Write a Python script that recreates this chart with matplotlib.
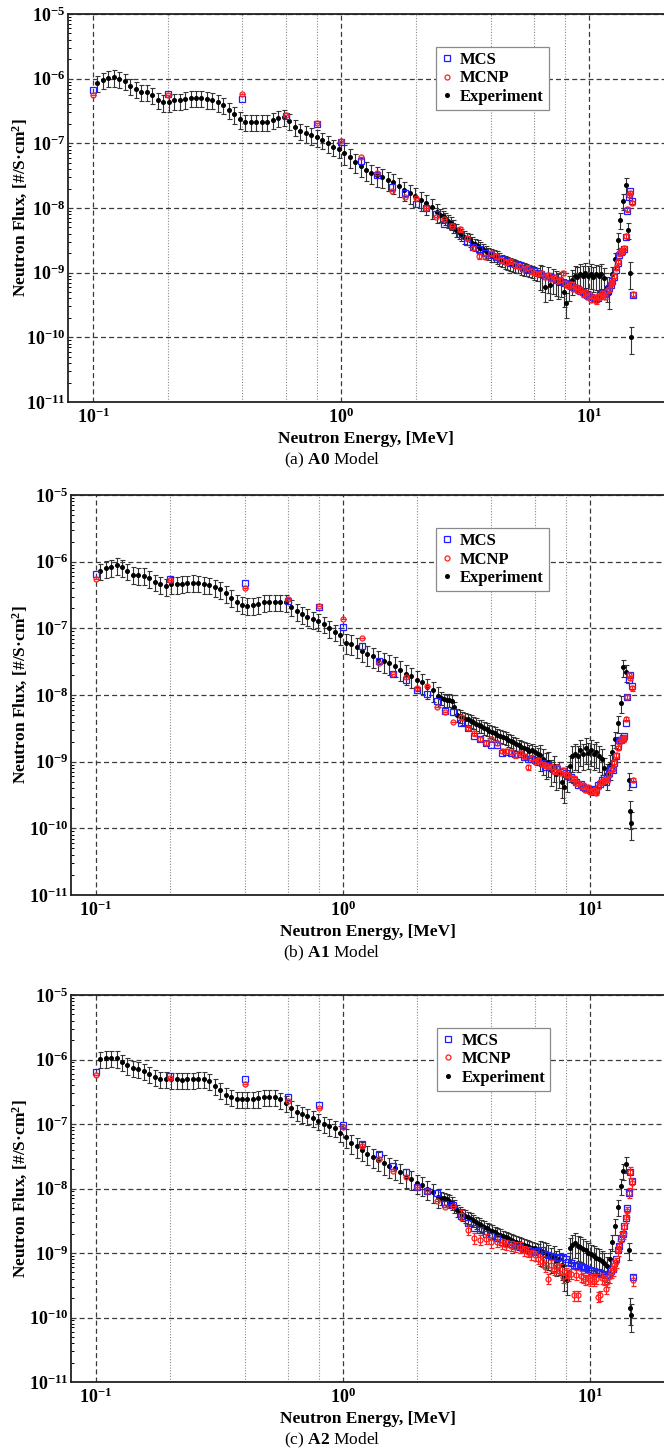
import numpy as np
import matplotlib.pyplot as plt
from matplotlib.lines import Line2D
from matplotlib.ticker import FixedLocator, FuncFormatter, NullFormatter

plt.rcParams['font.family'] = ['Liberation Serif', 'DejaVu Serif']
plt.rcParams['mathtext.fontset'] = 'custom'
plt.rcParams['mathtext.rm'] = 'Liberation Serif'
plt.rcParams['mathtext.bf'] = 'Liberation Serif:bold'
plt.rcParams['mathtext.it'] = 'Liberation Serif:italic'

# ---- simulation energy bins [MeV]
sim_energy = [
    0.1, 0.2, 0.4, 0.6, 0.8,
    1.0, 1.2, 1.4, 1.6, 1.8, 2.0, 2.2, 2.4, 2.6, 2.8,
    3.0, 3.2, 3.4, 3.6, 3.8, 4.0, 4.2, 4.4, 4.6, 4.8,
    5.0, 5.2, 5.4, 5.6, 5.8, 6.0, 6.2, 6.4, 6.6, 6.8,
    7.0, 7.2, 7.4, 7.6, 7.8, 8.0, 8.2, 8.4, 8.6, 8.8,
    9.0, 9.2, 9.4, 9.6, 9.8, 10.0, 10.2, 10.4, 10.6, 10.8,
    11.0, 11.2, 11.4, 11.6, 11.8, 12.0, 12.2, 12.4, 12.6, 12.8,
    13.0, 13.2, 13.4, 13.6, 13.8, 14.0, 14.2, 14.4, 14.6, 14.8,
    15.0,
]

# ---- measured spectrum energy bins [MeV]
exp_energy = [
    0.104, 0.1094, 0.1151, 0.1211, 0.1275, 0.1341, 0.1411, 0.1485, 0.1562, 0.1644,
    0.1730, 0.1820, 0.1915, 0.2015, 0.2120, 0.2231, 0.2347, 0.2470, 0.2599, 0.2734,
    0.2877, 0.3027, 0.3185, 0.3352, 0.3527, 0.3711, 0.3904, 0.4108, 0.4323, 0.4548,
    0.4786, 0.5036, 0.5298, 0.5575, 0.5866, 0.6172, 0.6494, 0.6833, 0.7190, 0.7565,
    0.7960, 0.8376, 0.8813, 0.9273, 0.9757, 1.027, 1.080, 1.137, 1.196, 1.258,
    1.324, 1.393, 1.466, 1.542, 1.623, 1.708, 1.797, 1.890, 1.989, 2.093,
    2.202, 2.317, 2.438,
    2.50, 2.56, 2.63, 2.70, 2.76, 2.83, 2.91, 2.98, 3.05, 3.13,
    3.21, 3.29, 3.38, 3.46, 3.55, 3.64, 3.73, 3.82, 3.92, 4.02,
    4.12, 4.23, 4.33, 4.44, 4.56, 4.67, 4.79, 4.91, 5.03, 5.16,
    5.29, 5.43, 5.56, 5.70, 5.85, 6.00, 6.15, 6.30, 6.46, 6.63,
    6.79, 6.97, 7.14, 7.32, 7.51, 7.70, 7.89, 8.09, 8.30, 8.51,
    8.72, 8.94, 9.17, 9.40, 9.64, 9.88, 10.13, 10.39, 10.65, 10.92,
    11.19, 11.48, 11.77, 12.06, 12.37, 12.68, 13.00, 13.33, 13.67, 14.01,
    14.37, 14.60, 14.75,
]

# relative uncertainty of the measurement, by energy band
exp_err_edges = [0.0, 1.0, 2.5, 6.3, 12.3, 14.5]
exp_err_frac = [0.28, 0.33, 0.22, 0.42, 0.28, 0.45]

# ---- A0 model
mcs_a = [
    6.7e-7, 5.8e-7, 4.8e-7, 2.6e-7, 2.0e-7,
    1.05e-7, 5.4e-8, 3.25e-8, 2.1e-8, 1.7e-8, 1.16e-8, 1.01e-8, 8.1e-9, 5.7e-9, 5.3e-9,
    3.9e-9, 3.0e-9, 2.5e-9, 2.3e-9, 2.05e-9, 1.9e-9, 1.75e-9, 1.6e-9, 1.5e-9, 1.4e-9,
    1.35e-9, 1.3e-9, 1.2e-9, 1.15e-9, 1.1e-9, 1.05e-9, 1.0e-9, 9.5e-10, 9.0e-10, 8.8e-10,
    8.5e-10, 8.2e-10, 7.8e-10, 7.5e-10, 7.2e-10, 7.0e-10, 6.6e-10, 6.2e-10, 6.0e-10, 5.8e-10,
    5.5e-10, 5.2e-10, 5.0e-10, 4.7e-10, 4.5e-10, 4.3e-10, 4.2e-10, 4.0e-10, 3.9e-10, 4.1e-10,
    4.6e-10, 4.4e-10, 4.9e-10, 4.6e-10, 5.0e-10, 5.8e-10, 6.5e-10, 7.5e-10, 8.5e-10, 1.1e-9,
    1.4e-9, 1.9e-9, 2.1e-9, 2.2e-9, 2.3e-9, 3.5e-9, 9.0e-9, 1.5e-8, 1.8e-8, 1.3e-8,
    4.5e-10,
]
mcnp_a = [
    5.5e-7, 5.5e-7, 5.8e-7, 2.75e-7, 2.05e-7,
    1.07e-7, 6.1e-8, 3.5e-8, 1.85e-8, 1.47e-8, 1.42e-8, 1.0e-8, 7.2e-9, 6.7e-9, 5.2e-9,
    4.7e-9, 3.4e-9, 2.4e-9, 1.8e-9, 1.75e-9, 2.0e-9, 1.8e-9, 1.55e-9, 1.45e-9, 1.5e-9,
    1.3e-9, 1.25e-9, 1.15e-9, 1.2e-9, 1.05e-9, 1.0e-9, 9.5e-10, 1.0e-9, 8.6e-10, 9.2e-10,
    8.0e-10, 8.6e-10, 7.4e-10, 7.8e-10, 1.0e-9, 6.8e-10, 6.2e-10, 6.6e-10, 5.6e-10, 6.0e-10,
    5.2e-10, 5.6e-10, 4.6e-10, 5.0e-10, 4.2e-10, 4.5e-10, 3.8e-10, 4.2e-10, 3.6e-10, 4.4e-10,
    4.2e-10, 4.8e-10, 4.5e-10, 4.2e-10, 5.2e-10, 5.5e-10, 6.8e-10, 7.2e-10, 9.0e-10, 1.2e-9,
    1.5e-9, 2.0e-9, 2.2e-9, 2.1e-9, 2.4e-9, 3.7e-9, 9.5e-9, 1.6e-8, 1.7e-8, 1.2e-8,
    4.6e-10,
]
exp_a = [
    8.7e-7, 9.5e-7, 1.04e-6, 1.05e-6, 1.0e-6, 9.3e-7, 7.7e-7, 6.9e-7, 6.2e-7, 6.2e-7,
    5.6e-7, 4.7e-7, 4.3e-7, 4.3e-7, 4.6e-7, 4.6e-7, 4.8e-7, 5.0e-7, 5.0e-7, 5.0e-7,
    4.8e-7, 4.7e-7, 4.3e-7, 3.9e-7, 3.3e-7, 2.8e-7, 2.35e-7, 2.17e-7, 2.17e-7, 2.17e-7,
    2.16e-7, 2.16e-7, 2.28e-7, 2.47e-7, 2.53e-7, 2.25e-7, 1.79e-7, 1.55e-7, 1.43e-7, 1.33e-7,
    1.24e-7, 1.13e-7, 1.0e-7, 8.9e-8, 8.1e-8, 7.0e-8, 6.2e-8, 5.2e-8, 4.5e-8, 3.9e-8,
    3.5e-8, 3.2e-8, 3.0e-8, 2.7e-8, 2.5e-8, 2.2e-8, 1.9e-8, 1.73e-8, 1.53e-8, 1.33e-8,
    1.18e-8, 1.02e-8, 8.8e-9,
    7.9e-9, 7.4e-9, 6.9e-9, 6.4e-9, 5.9e-9, 5.3e-9, 4.6e-9, 4.2e-9, 3.9e-9, 3.6e-9,
    3.4e-9, 3.2e-9, 2.9e-9, 2.75e-9, 2.6e-9, 2.45e-9, 2.3e-9, 2.15e-9, 2.0e-9, 1.9e-9,
    1.85e-9, 1.75e-9, 1.65e-9, 1.55e-9, 1.48e-9, 1.42e-9, 1.38e-9, 1.33e-9, 1.28e-9, 1.25e-9,
    1.2e-9, 1.15e-9, 1.12e-9, 1.08e-9, 1.05e-9, 1.0e-9, 9.6e-10, 9.2e-10, 8.8e-10, 6.0e-10,
    8.5e-10, 6.5e-10, 8.0e-10, 7.6e-10, 6.8e-10, 7.2e-10, 5.0e-10, 3.4e-10, 6.2e-10, 7.8e-10,
    9.0e-10, 8.5e-10, 9.5e-10, 8.8e-10, 1.0e-9, 9.0e-10, 9.6e-10, 8.6e-10, 9.4e-10, 8.8e-10,
    9.5e-10, 8.4e-10, 6.0e-10, 4.8e-10, 9.5e-10, 1.6e-9, 3.2e-9, 6.5e-9, 1.3e-8, 2.3e-8,
    4.6e-9, 1.0e-9, 1.0e-10,
]

# ---- A1 model
mcs_b = [
    6.5e-7, 5.5e-7, 4.8e-7, 2.6e-7, 2.1e-7,
    1.06e-7, 5.4e-8, 3.2e-8, 2.1e-8, 1.7e-8, 1.19e-8, 1.02e-8, 8.2e-9, 5.75e-9, 5.6e-9,
    3.85e-9, 3.2e-9, 2.4e-9, 2.2e-9, 1.9e-9, 1.8e-9, 1.75e-9, 1.36e-9, 1.4e-9, 1.36e-9,
    1.3e-9, 1.3e-9, 1.19e-9, 1.1e-9, 1.1e-9, 1.05e-9, 1.0e-9, 9.7e-10, 8.4e-10, 8.9e-10,
    8.0e-10, 7.5e-10, 7.8e-10, 7.1e-10, 7.2e-10, 6.8e-10, 6.0e-10, 5.9e-10, 5.3e-10, 5.0e-10,
    4.5e-10, 4.6e-10, 4.2e-10, 4.0e-10, 3.9e-10, 3.7e-10, 3.9e-10, 3.5e-10, 3.7e-10, 4.5e-10,
    4.6e-10, 5.3e-10, 5.7e-10, 5.0e-10, 5.7e-10, 6.8e-10, 8.0e-10, 7.6e-10, 9.5e-10, 1.2e-9,
    1.7e-9, 2.1e-9, 2.1e-9, 2.25e-9, 2.4e-9, 3.8e-9, 9.4e-9, 1.7e-8, 2.0e-8, 1.36e-8,
    4.7e-10,
]
mcnp_b = [
    5.5e-7, 5.3e-7, 4.0e-7, 2.75e-7, 2.15e-7,
    1.38e-7, 7.2e-8, 3.0e-8, 2.05e-8, 1.85e-8, 1.26e-8, 1.36e-8, 6.5e-9, 5.6e-9, 3.9e-9,
    4.6e-9, 3.2e-9, 2.65e-9, 2.2e-9, 1.9e-9, 2.2e-9, 1.9e-9, 1.45e-9, 1.45e-9, 1.4e-9,
    1.25e-9, 1.35e-9, 1.2e-9, 8.2e-10, 1.15e-9, 1.0e-9, 1.05e-9, 9.2e-10, 8.8e-10, 8.5e-10,
    8.4e-10, 7.2e-10, 8.2e-10, 6.8e-10, 7.5e-10, 6.4e-10, 6.3e-10, 5.6e-10, 5.6e-10, 4.8e-10,
    4.8e-10, 4.3e-10, 4.4e-10, 3.8e-10, 4.1e-10, 3.5e-10, 3.6e-10, 3.7e-10, 3.4e-10, 4.2e-10,
    4.9e-10, 5.0e-10, 5.4e-10, 5.3e-10, 5.4e-10, 6.5e-10, 7.6e-10, 8.0e-10, 9.9e-10, 1.25e-9,
    1.6e-9, 2.0e-9, 2.2e-9, 2.15e-9, 2.3e-9, 4.4e-9, 9.4e-9, 2.0e-8, 1.8e-8, 1.26e-8,
    5.3e-10,
]
exp_b = [
    7.3e-7, 7.9e-7, 8.2e-7, 8.8e-7, 8.2e-7, 7.3e-7, 6.4e-7, 6.3e-7, 6.2e-7, 5.6e-7,
    5.0e-7, 4.6e-7, 4.3e-7, 4.6e-7, 4.6e-7, 4.7e-7, 4.8e-7, 4.85e-7, 4.8e-7, 4.6e-7,
    4.5e-7, 4.1e-7, 3.85e-7, 3.35e-7, 2.9e-7, 2.5e-7, 2.27e-7, 2.2e-7, 2.23e-7, 2.3e-7,
    2.45e-7, 2.5e-7, 2.5e-7, 2.5e-7, 2.45e-7, 2.1e-7, 1.8e-7, 1.64e-7, 1.5e-7, 1.37e-7,
    1.28e-7, 1.17e-7, 1.0e-7, 8.9e-8, 7.9e-8, 6.1e-8, 5.9e-8, 5.3e-8, 4.6e-8, 4.1e-8,
    3.8e-8, 3.4e-8, 3.2e-8, 3.0e-8, 2.75e-8, 2.4e-8, 2.1e-8, 1.9e-8, 1.7e-8, 1.55e-8,
    1.3e-8, 1.19e-8, 9.8e-9,
    9.0e-9, 8.6e-9, 8.4e-9, 8.4e-9, 8.2e-9, 6.5e-9, 5.0e-9, 4.8e-9, 4.6e-9, 4.4e-9,
    4.3e-9, 4.1e-9, 3.9e-9, 3.7e-9, 3.5e-9, 3.4e-9, 3.2e-9, 3.1e-9, 2.9e-9, 2.8e-9,
    2.7e-9, 2.55e-9, 2.45e-9, 2.35e-9, 2.25e-9, 2.15e-9, 2.05e-9, 1.95e-9, 1.85e-9, 1.75e-9,
    1.65e-9, 1.6e-9, 1.55e-9, 1.45e-9, 1.5e-9, 1.4e-9, 1.3e-9, 1.25e-9, 1.1e-9, 9.5e-10,
    1.0e-9, 7.5e-10, 8.5e-10, 6.5e-10, 7.0e-10, 5.0e-10, 4.2e-10, 6.0e-10, 8.5e-10, 1.2e-9,
    1.3e-9, 1.2e-9, 1.5e-9, 1.3e-9, 1.6e-9, 1.35e-9, 1.5e-9, 1.3e-9, 1.4e-9, 1.2e-9,
    1.1e-9, 8.0e-10, 6.5e-10, 9.0e-10, 1.4e-9, 2.2e-9, 3.8e-9, 7.5e-9, 2.6e-8, 2.2e-8,
    5.3e-10, 1.8e-10, 1.2e-10,
]

# ---- A2 model
mcs_c = [
    6.3e-7, 5.6e-7, 5.0e-7, 2.6e-7, 2.0e-7,
    9.6e-8, 4.9e-8, 3.4e-8, 2.26e-8, 1.8e-8, 1.07e-8, 9.3e-9, 8.6e-9, 5.8e-9, 5.6e-9,
    3.75e-9, 2.95e-9, 2.4e-9, 2.3e-9, 2.0e-9, 1.85e-9, 1.7e-9, 1.48e-9, 1.45e-9, 1.4e-9,
    1.3e-9, 1.24e-9, 1.15e-9, 1.1e-9, 1.08e-9, 1.04e-9, 1.06e-9, 1.1e-9, 9.8e-10, 9.2e-10,
    9.0e-10, 8.7e-10, 8.5e-10, 8.7e-10, 8.6e-10, 8.0e-10, 7.3e-10, 7.0e-10, 6.6e-10, 6.4e-10,
    6.3e-10, 6.2e-10, 6.1e-10, 5.8e-10, 5.6e-10, 5.4e-10, 5.3e-10, 5.2e-10, 5.1e-10, 5.0e-10,
    4.9e-10, 4.8e-10, 4.7e-10, 4.6e-10, 4.5e-10, 4.5e-10, 5.2e-10, 5.7e-10, 7.0e-10, 8.2e-10,
    1.1e-9, 1.3e-9, 1.7e-9, 2.0e-9, 2.6e-9, 3.5e-9, 4.9e-9, 8.6e-9, 1.8e-8, 1.3e-8,
    4.3e-10,
]
mcnp_c = [
    5.8e-7, 5.1e-7, 4.2e-7, 2.3e-7, 1.8e-7,
    8.9e-8, 4.6e-8, 2.9e-8, 1.9e-8, 1.5e-8, 1.07e-8, 9.3e-9, 6.5e-9, 5.1e-9, 5.4e-9,
    3.9e-9, 2.3e-9, 1.7e-9, 1.6e-9, 1.67e-9, 1.48e-9, 1.5e-9, 1.4e-9, 1.35e-9, 1.3e-9,
    1.25e-9, 1.24e-9, 1.1e-9, 1.04e-9, 9.6e-10, 9.2e-10, 8.2e-10, 7.5e-10, 6.1e-10, 4.0e-10,
    6.5e-10, 5.5e-10, 6.0e-10, 5.7e-10, 4.2e-10, 5.0e-10, 4.5e-10, 4.8e-10, 2.2e-10, 4.6e-10,
    2.2e-10, 4.4e-10, 4.2e-10, 3.9e-10, 4.1e-10, 3.8e-10, 4.0e-10, 3.7e-10, 4.0e-10, 2.1e-10,
    2.2e-10, 4.1e-10, 3.9e-10, 2.8e-10, 3.6e-10, 4.2e-10, 5.0e-10, 5.4e-10, 6.6e-10, 7.2e-10,
    1.1e-9, 1.3e-9, 1.8e-9, 2.0e-9, 2.5e-9, 3.6e-9, 4.4e-9, 8.6e-9, 1.8e-8, 1.2e-8,
    3.8e-10,
]
exp_c = [
    1.02e-6, 1.04e-6, 1.07e-6, 1.04e-6, 9.3e-7, 8.1e-7, 7.5e-7, 7.2e-7, 6.7e-7, 5.9e-7,
    5.3e-7, 5.05e-7, 5.0e-7, 4.9e-7, 4.9e-7, 4.8e-7, 4.9e-7, 4.9e-7, 5.05e-7, 5.05e-7,
    4.7e-7, 3.9e-7, 3.4e-7, 2.8e-7, 2.6e-7, 2.45e-7, 2.45e-7, 2.45e-7, 2.45e-7, 2.5e-7,
    2.65e-7, 2.65e-7, 2.65e-7, 2.4e-7, 2.15e-7, 1.8e-7, 1.55e-7, 1.43e-7, 1.33e-7, 1.24e-7,
    1.13e-7, 1.0e-7, 9.2e-8, 8.6e-8, 7.3e-8, 6.4e-8, 5.1e-8, 4.5e-8, 4.0e-8, 3.4e-8,
    3.1e-8, 2.8e-8, 2.45e-8, 2.2e-8, 2.05e-8, 1.8e-8, 1.5e-8, 1.39e-8, 1.23e-8, 1.13e-8,
    1.0e-8, 8.9e-9, 7.5e-9,
    7.2e-9, 7.0e-9, 6.8e-9, 6.4e-9, 6.0e-9, 5.4e-9, 4.6e-9, 4.3e-9, 4.0e-9, 3.8e-9,
    3.6e-9, 3.4e-9, 3.2e-9, 3.0e-9, 2.85e-9, 2.7e-9, 2.55e-9, 2.4e-9, 2.3e-9, 2.2e-9,
    2.1e-9, 2.0e-9, 1.9e-9, 1.82e-9, 1.75e-9, 1.68e-9, 1.6e-9, 1.55e-9, 1.5e-9, 1.45e-9,
    1.4e-9, 1.35e-9, 1.3e-9, 1.25e-9, 1.2e-9, 1.18e-9, 1.12e-9, 1.1e-9, 1.05e-9, 1.0e-9,
    9.5e-10, 8.5e-10, 9.0e-10, 7.5e-10, 8.0e-10, 6.5e-10, 4.5e-10, 3.8e-10, 1.2e-9, 1.35e-9,
    1.45e-9, 1.3e-9, 1.25e-9, 1.15e-9, 1.1e-9, 1.0e-9, 9.5e-10, 9.0e-10, 8.5e-10, 8.0e-10,
    7.5e-10, 7.0e-10, 6.2e-10, 8.0e-10, 1.5e-9, 2.6e-9, 5.2e-9, 1.1e-8, 1.9e-8, 2.4e-8,
    1.1e-9, 1.4e-10, 1.1e-10,
]

# MCNP statistical error shown above 3 MeV (relative)
mcnp_err_frac = [0.08, 0.08, 0.18]

captions = ['(a)', '(b)', '(c)']
models = ['A0', 'A1', 'A2']

# decade ticks
energy_ticks = [0.1, 1.0, 10.0]
flux_ticks = [1e-11, 1e-10, 1e-9, 1e-8, 1e-7, 1e-6, 1e-5]
flux_minor = [m * d for d in flux_ticks[:-1] for m in range(2, 10)]

W, H = 664.0, 1455.0
# left, top, bottom of each plotting box in pixels
boxes = [(68, 14, 402), (71, 495, 895), (71, 995, 1382)]
legend_anchor = [(0.617, 0.915), (0.615, 0.917), (0.618, 0.916)]

fig = plt.figure(figsize=(6.64, 14.55), dpi=100)

e_sim = np.array(sim_energy)
e_exp = np.array(exp_energy)
band = np.searchsorted(exp_err_edges, e_exp, side='right') - 1
rel_err = np.array(exp_err_frac)[band]

panels = [(mcs_a, mcnp_a, exp_a), (mcs_b, mcnp_b, exp_b), (mcs_c, mcnp_c, exp_c)]

for i, (mcs, mcnp, meas) in enumerate(panels):
    left, top, bottom = boxes[i]
    ax = fig.add_axes([left / W, 1 - bottom / H, (W - left) / W, (bottom - top) / H])
    ax.set_xscale('log')
    ax.set_yscale('log')
    ax.set_xlim(0.0792, 20.0)
    ax.set_ylim(1e-11, 1e-5)

    meas = np.array(meas)
    ax.errorbar(e_exp, meas, yerr=meas * rel_err, fmt='o', ms=2.6,
                mfc='black', mec='black', ecolor='#333333', elinewidth=0.8,
                capsize=1.8, capthick=0.8, zorder=3)

    mcs = np.array(mcs)
    ax.plot(e_sim, mcs, 's', ms=4.6, mfc='none', mec='#1f1fff', mew=0.9, zorder=4)

    mcnp = np.array(mcnp)
    sim_err = np.where(e_sim >= 3.0, mcnp * mcnp_err_frac[i], 0.0)
    ax.errorbar(e_sim, mcnp, yerr=sim_err, fmt='o', ms=3.6, mfc='none',
                mec='#ff1f1f', mew=0.9, ecolor='#ff1f1f', elinewidth=0.8,
                capsize=1.8, capthick=0.8, zorder=5)

    # ticks only at the visible decades
    ax.xaxis.set_major_locator(FixedLocator(energy_ticks))
    ax.yaxis.set_major_locator(FixedLocator(flux_ticks))
    ax.xaxis.set_minor_locator(FixedLocator([0.2, 0.4, 0.6, 0.8, 2, 4, 6, 8]))
    ax.yaxis.set_minor_locator(FixedLocator(flux_minor))
    ax.xaxis.set_minor_formatter(NullFormatter())
    ax.yaxis.set_minor_formatter(NullFormatter())

    # grid: dashed decades, dotted 2/4/6/8 on energy axis
    ax.grid(which='major', axis='both', color='#3a3a3a', lw=0.9, ls=(0, (4, 2.5)))
    ax.grid(which='minor', axis='x', color='#8a8a8a', lw=0.8, ls=(0, (1, 1.5)))
    ax.set_axisbelow(True)

    fmt = FuncFormatter(lambda v, pos: r'$\mathbf{10^{%d}}$' % int(round(np.log10(v))))
    ax.xaxis.set_major_formatter(fmt)
    ax.yaxis.set_major_formatter(fmt)
    ax.tick_params(which='major', axis='both', direction='in', length=0,
                   labelsize=13, pad=4)
    ax.tick_params(which='minor', axis='x', length=0)
    ax.tick_params(which='minor', axis='y', direction='in', length=2.5, width=0.7)
    ax.tick_params(axis='y', pad=2)

    for side in ('left', 'bottom', 'top'):
        ax.spines[side].set_linewidth(1.3)
        ax.spines[side].set_color('#222222')
    ax.spines['right'].set_visible(False)

    handles = [
        Line2D([], [], ls='none', marker='s', ms=4.6, mfc='none', mec='#1f1fff', mew=0.9),
        Line2D([], [], ls='none', marker='o', ms=3.6, mfc='none', mec='#ff1f1f', mew=0.9),
        Line2D([], [], ls='none', marker='o', ms=2.6, mfc='black', mec='black'),
    ]
    leg = ax.legend(handles, ['MCS', 'MCNP', 'Experiment'], loc='upper left',
                    bbox_to_anchor=legend_anchor[i], borderaxespad=0,
                    prop={'weight': 'bold', 'size': 12}, frameon=True, fancybox=False,
                    edgecolor='#8a8a8a', framealpha=1, handlelength=0.7,
                    handletextpad=0.45, borderpad=0.3, labelspacing=0.15)
    leg.get_frame().set_linewidth(0.9)

    # axis titles and caption
    cx = (left + W) / 2 / W
    fig.text(cx, 1 - (bottom + 37) / H, 'Neutron Energy, [MeV]', ha='center',
             va='center', fontsize=12.5, fontweight='bold')
    fig.text(20 / W, 1 - (top + bottom) / 2 / H, r'Neutron Flux, [#/S·cm$^\mathbf{2}$]',
             rotation=90, ha='center', va='center', fontsize=12.5, fontweight='bold')
    fig.text(0.5, 1 - (bottom + 58) / H, r'%s $\mathbf{%s}$ Model' % (captions[i], models[i]),
             ha='center', va='center', fontsize=12.5)

fig.savefig('out.png', dpi=100)
